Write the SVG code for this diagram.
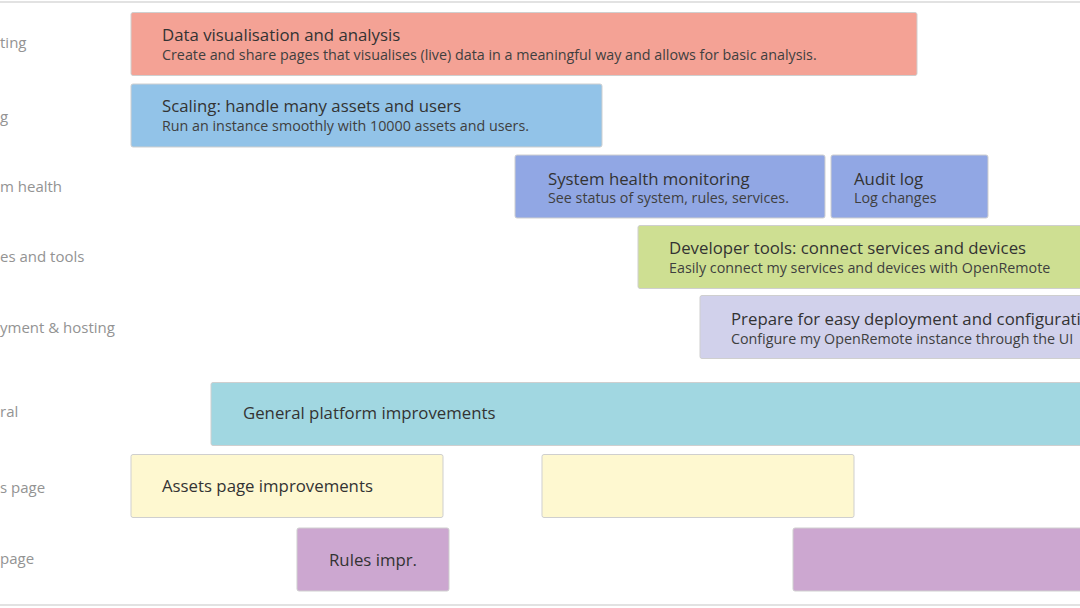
<svg xmlns="http://www.w3.org/2000/svg" width="1080" height="608" viewBox="0 0 1080 608">
<style>
.bg{fill:#ffffff}
.rule{stroke:#e2e2e2;stroke-width:2}
.lane{font-family:"Open Sans","Noto Sans",sans-serif;font-size:15px;fill:#939393}
.bar{stroke:#cfcfcf;stroke-width:1}
.t{font-family:"Open Sans","Noto Sans",sans-serif;font-size:16.8px;fill:#333333}
.s{font-family:"Open Sans","Noto Sans",sans-serif;font-size:14.3px;fill:#3f3f3f}
</style>
<rect class="bg" x="0" y="0" width="1080" height="608"/>
<line class="rule" x1="0" y1="2" x2="1080" y2="2"/>
<line class="rule" x1="0" y1="605" x2="1080" y2="605"/>
<g id="lanes">
<text class="lane" x="0" y="48">ting</text>
<text class="lane" x="0" y="122">g</text>
<text class="lane" x="0" y="192">m health</text>
<text class="lane" x="0" y="262">es and tools</text>
<text class="lane" x="0" y="333">yment &amp; hosting</text>
<text class="lane" x="0" y="417">ral</text>
<text class="lane" x="0" y="493">s page</text>
<text class="lane" x="0" y="564">page</text>
</g>
<g id="n1"><rect class="bar" x="131" y="12.5" width="786" height="63" rx="2" fill="#F4A295"/>
<text class="t" x="162" y="41">Data visualisation and analysis</text>
<text class="s" x="162" y="60">Create and share pages that visualises (live) data in a meaningful way and allows for basic analysis.</text></g>
<g id="n2"><rect class="bar" x="131" y="84" width="471" height="63" rx="2" fill="#92C3E8"/>
<text class="t" x="162" y="112">Scaling: handle many assets and users</text>
<text class="s" x="162" y="131">Run an instance smoothly with 10000 assets and users.</text></g>
<g id="n3"><rect class="bar" x="515" y="155" width="310" height="63" rx="2" fill="#91A7E4"/>
<text class="t" x="548" y="185">System health monitoring</text>
<text class="s" x="548" y="203">See status of system, rules, services.</text></g>
<g id="n4"><rect class="bar" x="831" y="155" width="157" height="63" rx="2" fill="#91A7E4"/>
<text class="t" x="854" y="185">Audit log</text>
<text class="s" x="854" y="203">Log changes</text></g>
<g id="n5"><rect class="bar" x="638" y="225.5" width="450" height="63" rx="2" fill="#CEDF92"/>
<text class="t" x="669" y="254">Developer tools: connect services and devices</text>
<text class="s" x="669" y="273">Easily connect my services and devices with OpenRemote</text></g>
<g id="n6"><rect class="bar" x="700" y="295.5" width="390" height="63" rx="2" fill="#D1D1EB"/>
<text class="t" x="731" y="325">Prepare for easy deployment and configuration</text>
<text class="s" x="731" y="344">Configure my OpenRemote instance through the UI</text></g>
<g id="n7"><rect class="bar" x="211" y="382.5" width="880" height="63" rx="2" fill="#A1D7E1"/>
<text class="t" x="243" y="419">General platform improvements</text></g>
<g id="n8"><rect class="bar" x="131" y="454.5" width="312" height="63" rx="2" fill="#FEF8D0"/>
<text class="t" x="162" y="492">Assets page improvements</text></g>
<g id="n9"><rect class="bar" x="542" y="454.5" width="312" height="63" rx="2" fill="#FEF8D0"/></g>
<g id="n10"><rect class="bar" x="297" y="528" width="152" height="63" rx="2" fill="#CCA7D0"/>
<text class="t" x="329" y="566">Rules impr.</text></g>
<g id="n11"><rect class="bar" x="793" y="528" width="297" height="63" rx="2" fill="#CCA7D0"/></g>
<g id="connectors"></g>
</svg>
